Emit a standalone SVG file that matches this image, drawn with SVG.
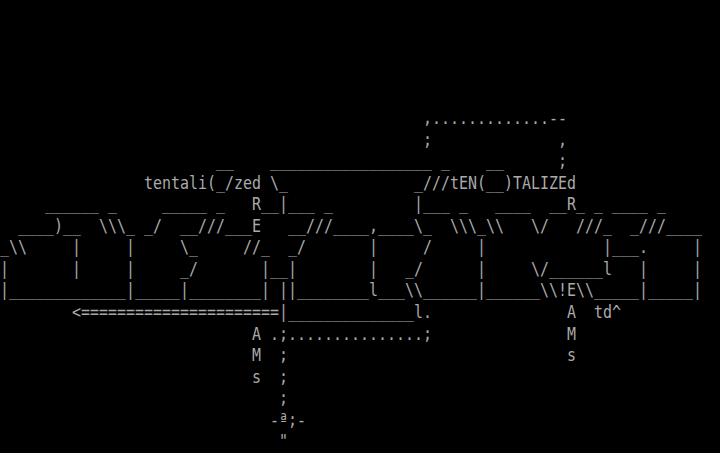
<svg xmlns="http://www.w3.org/2000/svg" width="720" height="453" viewBox="0 0 720 453">
<style>
text{font-family:"DejaVu Sans Mono","Liberation Mono",monospace;font-size:17px;fill:#aaaaaa;white-space:pre}
</style>
<rect x="0" y="0" width="720" height="453" fill="#000000"/>
<g id="art" xml:space="preserve">
<g id="row5"><text x="423" y="124" textLength="144" lengthAdjust="spacingAndGlyphs">,.............--</text></g>
<g id="row6"><text x="423" y="145.5" textLength="9" lengthAdjust="spacingAndGlyphs">;</text><text x="558" y="145.5" textLength="9" lengthAdjust="spacingAndGlyphs">,</text></g>
<g id="row7"><text x="216" y="167" textLength="18" lengthAdjust="spacingAndGlyphs">__</text><text x="270" y="167" textLength="180" lengthAdjust="spacingAndGlyphs">__________________ _</text><text x="486" y="167" textLength="18" lengthAdjust="spacingAndGlyphs">__</text><text x="558" y="167" textLength="9" lengthAdjust="spacingAndGlyphs">;</text></g>
<g id="row8"><text x="144" y="188.6" textLength="144" lengthAdjust="spacingAndGlyphs">tentali(_/zed \_</text><text x="414" y="188.6" textLength="162" lengthAdjust="spacingAndGlyphs">_///tEN(__)TALIZEd</text></g>
<g id="row9"><text x="45" y="210.1" textLength="72" lengthAdjust="spacingAndGlyphs">______ _</text><text x="162" y="210.1" textLength="63" lengthAdjust="spacingAndGlyphs">_____ _</text><text x="252" y="210.1" textLength="81" lengthAdjust="spacingAndGlyphs">R__|___ _</text><text x="414" y="210.1" textLength="54" lengthAdjust="spacingAndGlyphs">|___ _</text><text x="495" y="210.1" textLength="171" lengthAdjust="spacingAndGlyphs">____  __R_ _ ____ _</text></g>
<g id="row10"><text x="18" y="231.7" textLength="63" lengthAdjust="spacingAndGlyphs">____)__</text><text x="99" y="231.7" textLength="63" lengthAdjust="spacingAndGlyphs">\\\_ _/</text><text x="180" y="231.7" textLength="81" lengthAdjust="spacingAndGlyphs">__///___E</text><text x="288" y="231.7" textLength="144" lengthAdjust="spacingAndGlyphs">__///____,____\_</text><text x="450" y="231.7" textLength="54" lengthAdjust="spacingAndGlyphs">\\\_\\</text><text x="531" y="231.7" textLength="18" lengthAdjust="spacingAndGlyphs">\/</text><text x="576" y="231.7" textLength="36" lengthAdjust="spacingAndGlyphs">///_</text><text x="630" y="231.7" textLength="72" lengthAdjust="spacingAndGlyphs">_///____</text></g>
<g id="row11"><text x="0" y="253.3" textLength="27" lengthAdjust="spacingAndGlyphs">_\\</text><text x="72" y="253.3" textLength="9" lengthAdjust="spacingAndGlyphs">|</text><text x="126" y="253.3" textLength="9" lengthAdjust="spacingAndGlyphs">|</text><text x="180" y="253.3" textLength="18" lengthAdjust="spacingAndGlyphs">\_</text><text x="243" y="253.3" textLength="27" lengthAdjust="spacingAndGlyphs">//_</text><text x="288" y="253.3" textLength="18" lengthAdjust="spacingAndGlyphs">_/</text><text x="369" y="253.3" textLength="9" lengthAdjust="spacingAndGlyphs">|</text><text x="423" y="253.3" textLength="9" lengthAdjust="spacingAndGlyphs">/</text><text x="477" y="253.3" textLength="9" lengthAdjust="spacingAndGlyphs">|</text><text x="603" y="253.3" textLength="45" lengthAdjust="spacingAndGlyphs">|___.</text><text x="693" y="253.3" textLength="9" lengthAdjust="spacingAndGlyphs">|</text></g>
<g id="row12"><text x="0" y="274.9" textLength="9" lengthAdjust="spacingAndGlyphs">|</text><text x="72" y="274.9" textLength="9" lengthAdjust="spacingAndGlyphs">|</text><text x="126" y="274.9" textLength="9" lengthAdjust="spacingAndGlyphs">|</text><text x="180" y="274.9" textLength="18" lengthAdjust="spacingAndGlyphs">_/</text><text x="261" y="274.9" textLength="36" lengthAdjust="spacingAndGlyphs">|__|</text><text x="369" y="274.9" textLength="9" lengthAdjust="spacingAndGlyphs">|</text><text x="405" y="274.9" textLength="18" lengthAdjust="spacingAndGlyphs">_/</text><text x="477" y="274.9" textLength="9" lengthAdjust="spacingAndGlyphs">|</text><text x="531" y="274.9" textLength="81" lengthAdjust="spacingAndGlyphs">\/______l</text><text x="639" y="274.9" textLength="9" lengthAdjust="spacingAndGlyphs">|</text><text x="693" y="274.9" textLength="9" lengthAdjust="spacingAndGlyphs">|</text></g>
<g id="row13"><text x="0" y="296.4" textLength="270" lengthAdjust="spacingAndGlyphs">|_____________|_____|________|</text><text x="279" y="296.4" textLength="423" lengthAdjust="spacingAndGlyphs">||________l___\\______|______\\!E\\_____|_____|</text></g>
<g id="row14"><text x="72" y="318" textLength="360" lengthAdjust="spacingAndGlyphs">&lt;======================|______________l.</text><text x="567" y="318" textLength="9" lengthAdjust="spacingAndGlyphs">A</text><text x="594" y="318" textLength="27" lengthAdjust="spacingAndGlyphs">td^</text></g>
<g id="row15"><text x="252" y="339.6" textLength="9" lengthAdjust="spacingAndGlyphs">A</text><text x="270" y="339.6" textLength="162" lengthAdjust="spacingAndGlyphs">.;...............;</text><text x="567" y="339.6" textLength="9" lengthAdjust="spacingAndGlyphs">M</text></g>
<g id="row16"><text x="252" y="361.1" textLength="9" lengthAdjust="spacingAndGlyphs">M</text><text x="279" y="361.1" textLength="9" lengthAdjust="spacingAndGlyphs">;</text><text x="567" y="361.1" textLength="9" lengthAdjust="spacingAndGlyphs">s</text></g>
<g id="row17"><text x="252" y="382.7" textLength="9" lengthAdjust="spacingAndGlyphs">s</text><text x="279" y="382.7" textLength="9" lengthAdjust="spacingAndGlyphs">;</text></g>
<g id="row18"><text x="279" y="404.3" textLength="9" lengthAdjust="spacingAndGlyphs">;</text></g>
<g id="row19"><text x="270" y="425.8" textLength="36" lengthAdjust="spacingAndGlyphs">-ª;-</text></g>
<g id="row20"><text x="279" y="447.4" textLength="9" lengthAdjust="spacingAndGlyphs">"</text></g>
</g>
</svg>
